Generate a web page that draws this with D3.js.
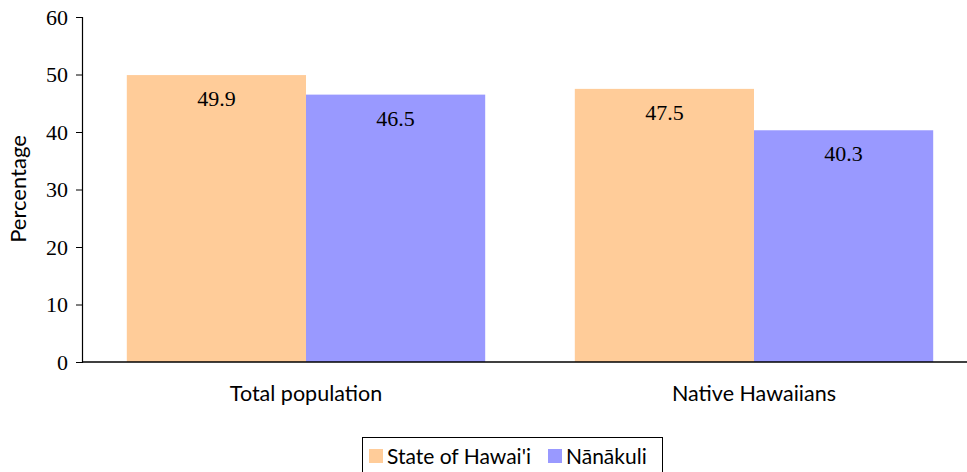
<!DOCTYPE html>
<html><head><meta charset="utf-8">
<script src="https://cdn.jsdelivr.net/npm/d3@7"></script>
<style>body{margin:0;background:#fff}svg{display:block}</style>
</head><body>
<script>
const categories = ["Total population", "Native Hawaiians"];
const seriesNames = ["State of Hawai'i", "Nānākuli"];
const hawaii = [49.9, 47.5];
const nanakuli = [46.5, 40.3];
const yTicks = [0, 10, 20, 30, 40, 50, 60];
const colors = ["#FFCC99", "#9999FF"];

const W = 967, H = 472;
const svg = d3.select("body").append("svg").attr("width", W).attr("height", H);
const serif = "'Liberation Serif', 'DejaVu Serif', serif";
const sans = "Lato, 'Open Sans', sans-serif";

const x0 = d3.scaleBand().domain(categories).range([82, 978]).paddingInner(0.2).paddingOuter(0.1);
const x1 = d3.scaleBand().domain(seriesNames).range([0, x0.bandwidth()]);
const y = d3.scaleLinear().domain([0, 60]).range([362, 17]);

const data = categories.map((c, i) => ({cat: c, vals: [hawaii[i], nanakuli[i]]}));

const g = svg.append("g");
data.forEach(d => {
  d.vals.forEach((v, j) => {
    const xs = x0(d.cat) + x1(seriesNames[j]);
    g.append("rect").attr("x", xs).attr("y", y(v)).attr("width", x1.bandwidth()).attr("height", y(0) - y(v)).attr("fill", colors[j]);
    g.append("text").attr("x", xs + x1.bandwidth() / 2).attr("y", y(v) + 31)
      .attr("text-anchor", "middle").style("font-family", serif).style("font-size", "22px").attr("fill", "#000")
      .text(v.toFixed(1));
  });
});

// y axis
const yAxis = d3.axisLeft(y).tickValues(yTicks).tickSize(6).tickPadding(8);
const ya = svg.append("g").attr("transform", "translate(82,0)").call(yAxis);
ya.select(".domain").attr("stroke", "#000").attr("stroke-width", 1.2);
ya.selectAll(".tick line").attr("stroke", "#000");
ya.selectAll(".tick text").style("font-family", serif).style("font-size", "22px").attr("fill", "#000");

// x axis baseline
svg.append("line").attr("x1", 82).attr("x2", W).attr("y1", y(0)).attr("y2", y(0)).attr("stroke", "#000").attr("stroke-width", 1.5);

// category labels
svg.selectAll(".cat").data(categories).enter().append("text")
  .attr("x", d => x0(d) + x0.bandwidth() / 2).attr("y", 401)
  .attr("text-anchor", "middle").style("font-family", sans).style("font-size", "21.5px").attr("fill", "#000")
  .text(d => d);

// y title
svg.append("text").attr("transform", "translate(26,189) rotate(-90)").attr("text-anchor", "middle")
  .style("font-family", sans).style("font-size", "22px").attr("fill", "#000").text("Percentage");

// legend
const lg = svg.append("g");
lg.append("rect").attr("x", 362.5).attr("y", 437.5).attr("width", 300).attr("height", 40).attr("fill", "none").attr("stroke", "#000").attr("stroke-width", 1);
const lx = [369, 548];
seriesNames.forEach((s, i) => {
  lg.append("rect").attr("x", lx[i]).attr("y", 449).attr("width", 14).attr("height", 14).attr("fill", colors[i]);
  lg.append("text").attr("x", lx[i] + 18).attr("y", 464).style("font-family", sans).style("font-size", "21px").attr("fill", "#000").text(s);
});
</script>
</body></html>
